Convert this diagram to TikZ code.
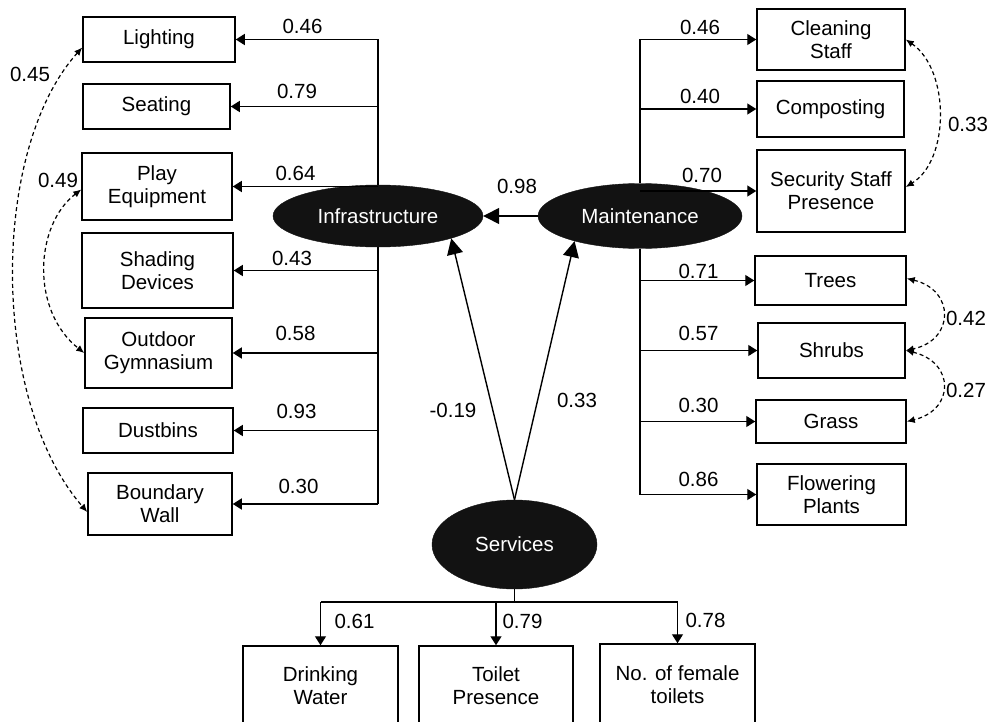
\documentclass[tikz,border=0pt]{standalone}
\usepackage{fontspec}
\setmainfont{Liberation Sans}
\usetikzlibrary{arrows.meta,shapes.geometric}
\begin{document}
\begin{tikzpicture}[x=1pt,y=-1pt,
  txt/.style={font=\fontsize{20.5}{23}\selectfont},
  box/.style={txt, draw, line width=1.5pt, inner sep=0pt, align=center},
  lat/.style={txt, ellipse, fill=black!93, draw=black!93, inner sep=0pt, text=white},
  lbl/.style={txt, inner sep=0pt},
  ln/.style={line width=1.4pt},
  ar/.style={ln, -{Triangle[length=9pt,width=11pt]}},
  bigar/.style={ln, -{Triangle[length=16pt,width=16pt]}},
  cov/.style={line width=1.2pt, dash pattern=on 4pt off 3pt,
    {Latex[length=8pt,width=7pt]}-{Latex[length=8pt,width=7pt]}},
]
\useasboundingbox (0,0) rectangle (990,722);

% latent variables
\node[lat, minimum width=210, minimum height=62] (infra) at (378,216) {Infrastructure};
\node[lat, minimum width=204, minimum height=65] (mnt) at (640,216) {Maintenance};
\node[lat, minimum width=165, minimum height=89] (svc) at (514.5,544.5) {Services};

% infrastructure indicators
\node[box, minimum width=152, minimum height=45] (light) at (159,39.5) {Lighting};
\node[box, minimum width=147, minimum height=45] (seat) at (156.5,106.5) {Seating};
\node[box, minimum width=150, minimum height=67] (play) at (157,186.5) {Play\\Equipment};
\node[box, minimum width=151, minimum height=75] (shade) at (157.5,270.5) {Shading\\Devices};
\node[box, minimum width=147, minimum height=70] (gym) at (158.5,353) {Outdoor\\Gymnasium};
\node[box, minimum width=150, minimum height=45] (dust) at (158,430.5) {Dustbins};
\node[box, minimum width=144, minimum height=62] (wall) at (160,504) {Boundary\\Wall};

% maintenance indicators
\node[box, minimum width=148, minimum height=61] (clean) at (831,39.5) {Cleaning\\Staff};
\node[box, minimum width=147, minimum height=56] (comp) at (830.5,109) {Composting};
\node[box, minimum width=148, minimum height=82] (sec) at (831,191) {Security Staff\\Presence};
\node[box, minimum width=151, minimum height=49] (trees) at (830.5,280.5) {Trees};
\node[box, minimum width=147, minimum height=55] (shrub) at (831.5,350.5) {Shrubs};
\node[box, minimum width=150, minimum height=43] (grass) at (831,421.5) {Grass};
\node[box, minimum width=149, minimum height=61] (flow) at (831.5,494.5) {Flowering\\Plants};

% services indicators
\node[box, minimum width=155, minimum height=80] (drink) at (320.5,686) {Drinking\\Water};
\node[box, minimum width=154, minimum height=80] (toilet) at (496,686) {Toilet\\Presence};
\node[box, minimum width=155, minimum height=82] (fem) at (677.5,685) {No. of female\\toilets};

% infrastructure connectors
\draw[ln] (light.east -| infra.north) -- (infra.north);
\draw[ln] (infra.south) -- (wall.east -| infra.south);
\foreach \b in {light,seat,play,shade,gym,dust,wall}
  \draw[ar] (\b.east -| infra.north) -- (\b.east);

% maintenance connectors
\draw[ln] (clean.west -| mnt.north) -- (mnt.north);
\draw[ln] (mnt.south) -- (flow.west -| mnt.south);
\foreach \b in {clean,comp,sec,trees,shrub,grass,flow}
  \draw[ar] (\b.west -| mnt.north) -- (\b.west);

% services connectors
\coordinate (sj) at (514.5,602);
\draw[ln] (svc.south) -- (sj);
\draw[ln] (drink.north |- sj) -- (fem.north |- sj);
\foreach \b in {drink,toilet,fem}
  \draw[ar] (\b.north |- sj) -- (\b.north);

% structural paths
\draw[bigar] (mnt.west) -- (infra.east);
\draw[bigar] (svc.north) -- (infra.-17);
\draw[bigar] (svc.north) -- (mnt.-159);

% covariances
\draw[cov] ([yshift=-8pt]light.west) .. controls (-10,150) and (-10,400) .. ([yshift=-8pt]wall.west);
\draw[cov] ([yshift=-3pt]play.west) .. controls (35,225) and (30,310) .. (gym.west);
\draw[cov] (clean.east) .. controls (950,70) and (950,160) .. ([yshift=4pt]sec.east);
\draw[cov] ([yshift=2pt]trees.east) .. controls (955,290) and (955,340) .. (shrub.east);
\draw[cov] (shrub.east) .. controls (955,362) and (955,410) .. (grass.east);

% loading labels
\node[lbl] (l1) at (302.5,26.5) {0.46};
\node[lbl] (l2) at (297,91.5) {0.79};
\node[lbl] (l3) at (295.5,173) {0.64};
\node[lbl] (l4) at (292,258.5) {0.43};
\node[lbl] (l5) at (295.5,333.5) {0.58};
\node[lbl] (l6) at (296.5,411.5) {0.93};
\node[lbl] (l7) at (298.5,486.5) {0.30};

\node[lbl] (r1) at (700,27.5) {0.46};
\node[lbl] (r2) at (700,96) {0.40};
\node[lbl] (r3) at (702,175) {0.70};
\node[lbl] (r4) at (698.5,271) {0.71};
\node[lbl] (r5) at (698.5,333) {0.57};
\node[lbl] (r6) at (698.5,405.5) {0.30};
\node[lbl] (r7) at (698.5,479.5) {0.86};

\node[lbl] (b1) at (354.5,621.5) {0.61};
\node[lbl] (b2) at (522.5,621.5) {0.79};
\node[lbl] (b3) at (705.5,620.5) {0.78};

\node[lbl] (s1) at (517,186) {0.98};
\node[lbl] (s2) at (453,410) {-0.19};
\node[lbl] (s3) at (577,400) {0.33};

\node[lbl] (c1) at (30,74.5) {0.45};
\node[lbl] (c2) at (58,180) {0.49};
\node[lbl] (c3) at (968,124.5) {0.33};
\node[lbl] (c4) at (966,318) {0.42};
\node[lbl] (c5) at (966,390) {0.27};
\end{tikzpicture}
\end{document}
